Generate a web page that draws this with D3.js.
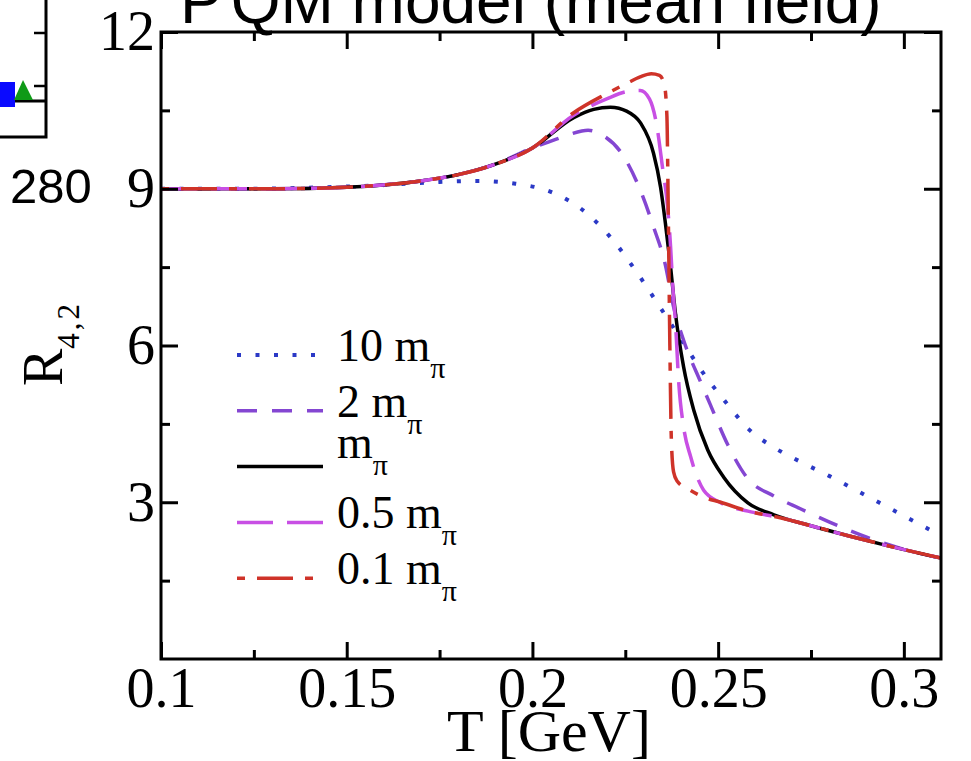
<!DOCTYPE html>
<html><head><meta charset="utf-8">
<script src="https://cdn.jsdelivr.net/npm/d3@7"></script>
<style>html,body{margin:0;padding:0;background:#fff;overflow:hidden}svg{display:block}</style>
</head><body><svg id="c" width="971" height="761"></svg>
<script>
// ---------- data ----------
const titleHead = "P";
const titleRest = "QM model (mean field)";
const xLabel = "T [GeV]";
const xDomain = [0.1, 0.31];
const yDomain = [0, 12];
const xMajor = [0.1, 0.15, 0.2, 0.25, 0.3];
const xMajorLabels = ["0.1", "0.15", "0.2", "0.25", "0.3"];
const xMinor = [0.125, 0.175, 0.225, 0.275];
const yMajor = [3, 6, 9, 12];
const yMajorLabels = ["3", "6", "9", "12"];
const yMinor = [1.5, 4.5, 7.5, 10.5];

const seriesNames = ["10 m", "2 m", "m", "0.5 m", "0.1 m"];

const T_10 = [0.100,0.120,0.140,0.160,0.175,0.185,0.195,0.2057,0.2148,0.2221,0.2283,0.2342,0.2400,0.2458,0.2520,0.2582,0.265,0.272,0.280,0.290,0.300,0.310];
const R_10 = [9.00,9.00,9.02,9.07,9.13,9.15,9.10,8.92,8.52,7.98,7.38,6.75,6.12,5.49,4.92,4.40,4.05,3.78,3.50,3.12,2.74,2.36];

const T_2 = [0.100,0.130,0.150,0.170,0.180,0.190,0.200,0.2057,0.2100,0.2150,0.2190,0.2237,0.2290,0.2326,0.2358,0.2380,0.2407,0.2453,0.2480,0.2526,0.2580,0.2650,0.2720,0.2800,0.2900,0.3000,0.3100];
const R_2 = [9.00,9.00,9.03,9.15,9.27,9.47,9.78,9.93,10.04,10.12,10.02,9.71,8.98,8.27,7.54,6.74,6.10,5.30,4.85,4.10,3.45,3.12,2.88,2.62,2.33,2.10,1.93];

const T_1 = [0.100,0.130,0.150,0.170,0.180,0.190,0.200,0.2111,0.2165,0.2210,0.2255,0.2291,0.2326,0.2345,0.2358,0.2372,0.2385,0.2407,0.2434,0.2472,0.2515,0.2580,0.2650,0.2750,0.2850,0.2950,0.3100];
const R_1 = [9.00,9.00,9.03,9.15,9.27,9.47,9.78,10.36,10.52,10.56,10.48,10.26,9.68,9.03,8.34,7.50,6.62,5.59,4.77,4.00,3.48,2.99,2.76,2.55,2.36,2.18,1.93];

const T_05 = [0.100,0.130,0.150,0.170,0.180,0.190,0.200,0.2110,0.2200,0.2255,0.2290,0.2315,0.2335,0.2350,0.2364,0.2372,0.2378,0.2385,0.2394,0.2407,0.2426,0.2461,0.2507,0.2580,0.2670,0.2750,0.2850,0.2950,0.3100];
const R_05 = [9.00,9.00,9.03,9.15,9.27,9.47,9.78,10.40,10.72,10.86,10.88,10.72,10.20,9.42,8.65,7.89,7.12,6.45,5.28,4.44,3.87,3.23,2.99,2.83,2.70,2.55,2.36,2.18,1.93];

const T_01 = [0.100,0.130,0.150,0.170,0.180,0.190,0.200,0.2110,0.2200,0.2255,0.2290,0.2320,0.2342,0.2355,0.2362,0.2366,0.2370,0.2374,0.2380,0.2390,0.2420,0.2460,0.2507,0.2580,0.2670,0.2750,0.2850,0.2950,0.3100];
const R_01 = [9.00,9.00,9.03,9.15,9.27,9.47,9.78,10.45,10.82,11.02,11.14,11.20,11.17,11.00,10.40,8.40,6.00,4.20,3.58,3.40,3.25,3.10,3.00,2.83,2.70,2.55,2.36,2.18,1.93];

// fragment of neighbouring chart (top-left corner)
const fragTickLabel = "280";

// ---------- styles ----------
const seriesT = [T_10, T_2, T_1, T_05, T_01];
const seriesR = [R_10, R_2, R_1, R_05, R_01];
const colors = ["#2b39c6", "#8446d2", "#000000", "#c84fe4", "#cf3329"];
const dashes = ["4 14.5", "20 15", null, "36 14", "8 12 36 12"];
const widths = [4, 3.5, 3.5, 3.5, 3.5];

const svg = d3.select("#c");
const serif = "'Liberation Serif','Times New Roman',Times,serif";
const sans = "'Liberation Sans',Arial,Helvetica,sans-serif";

const P = {left: 161, right: 941, top: 32, bottom: 659};
const x = d3.scaleLinear().domain(xDomain).range([P.left, P.right]);
const y = d3.scaleLinear().domain(yDomain).range([P.bottom, P.top]);

// ---------- neighbour fragment ----------
const frag = svg.append("g");
frag.append("path").attr("d", "M0,137 L46,137 L46,-2").attr("fill", "none").attr("stroke", "#000").attr("stroke-width", 3);
frag.append("line").attr("x1", 0).attr("x2", 46).attr("y1", 101).attr("y2", 101).attr("stroke", "#000").attr("stroke-width", 3);
[33, 86].forEach(v => frag.append("line").attr("x1", 34).attr("x2", 46).attr("y1", v).attr("y2", v).attr("stroke", "#000").attr("stroke-width", 2.5));
frag.append("rect").attr("x", -10).attr("y", 82).attr("width", 25).attr("height", 25).attr("fill", "#0a0aff");
frag.append("path").attr("d", "M23,80 L33,100 L14,100 Z").attr("fill", "#0f9a17");
frag.append("text").attr("x", 10).attr("y", 203).attr("font-family", sans).attr("font-size", 49).text(fragTickLabel);

// ---------- title ----------
const tt = svg.append("text").attr("x", 180).attr("y", 23).attr("font-family", sans).attr("font-size", 64).attr("fill", "#000");
tt.append("tspan").text(titleHead);
tt.append("tspan").attr("dx", 8).text(titleRest);

// ---------- curves ----------
svg.append("clipPath").attr("id", "pc").append("rect")
  .attr("x", P.left).attr("y", P.top).attr("width", P.right - P.left).attr("height", P.bottom - P.top);
const line = d3.line().x(d => x(d[0])).y(d => y(d[1])).curve(d3.curveMonotoneX);
const gc = svg.append("g").attr("clip-path", "url(#pc)");
seriesT.forEach((T, i) => {
  const pts = T.map((t, j) => [t, seriesR[i][j]]);
  const p = gc.append("path").attr("d", line(pts)).attr("fill", "none")
    .attr("stroke", colors[i]).attr("stroke-width", widths[i]);
  if (dashes[i]) p.attr("stroke-dasharray", dashes[i]);
});

// ---------- axes ----------
function styleAxis(g) {
  g.select(".domain").remove();
  g.selectAll(".tick line").attr("stroke", "#000").attr("stroke-width", 3);
  g.selectAll(".tick text").attr("font-family", serif).attr("font-size", 56).attr("fill", "#000");
}
svg.append("g").attr("transform", `translate(0,${P.bottom})`)
  .call(d3.axisBottom(x).tickValues(xMajor).tickSize(-17).tickPadding(8).tickFormat((d, i) => xMajorLabels[i])).call(styleAxis);
svg.append("g").attr("transform", `translate(0,${P.bottom})`)
  .call(d3.axisBottom(x).tickValues(xMinor).tickSize(-9).tickFormat("")).call(styleAxis);
svg.append("g").attr("transform", `translate(0,${P.top})`)
  .call(d3.axisTop(x).tickValues(xMajor).tickSize(-17).tickFormat("")).call(styleAxis);
svg.append("g").attr("transform", `translate(0,${P.top})`)
  .call(d3.axisTop(x).tickValues(xMinor).tickSize(-9).tickFormat("")).call(styleAxis);
svg.append("g").attr("transform", `translate(${P.left},0)`)
  .call(d3.axisLeft(y).tickValues(yMajor).tickSize(-17).tickPadding(6).tickFormat((d, i) => yMajorLabels[i])).call(styleAxis);
svg.append("g").attr("transform", `translate(${P.left},0)`)
  .call(d3.axisLeft(y).tickValues(yMinor).tickSize(-9).tickFormat("")).call(styleAxis);
svg.append("g").attr("transform", `translate(${P.right},0)`)
  .call(d3.axisRight(y).tickValues(yMajor).tickSize(-17).tickFormat("")).call(styleAxis);
svg.append("g").attr("transform", `translate(${P.right},0)`)
  .call(d3.axisRight(y).tickValues(yMinor).tickSize(-9).tickFormat("")).call(styleAxis);

svg.append("rect").attr("x", P.left).attr("y", P.top).attr("width", P.right - P.left).attr("height", P.bottom - P.top)
  .attr("fill", "none").attr("stroke", "#000").attr("stroke-width", 3);

// axis titles
svg.append("text").attr("x", 549).attr("y", 751).attr("text-anchor", "middle")
  .attr("font-family", serif).attr("font-size", 60).text(xLabel);
const yl = svg.append("text").attr("transform", `translate(62,${(P.top + P.bottom) / 2 - 2}) rotate(-90)`)
  .attr("text-anchor", "middle").attr("font-family", serif).attr("font-size", 56);
yl.append("tspan").text("R");
yl.append("tspan").attr("font-size", 31).attr("dy", 17).attr("letter-spacing", 3).text("4,2");

// ---------- legend ----------
const legY0 = 355, legDy = 55.8;
const lg = svg.append("g");
seriesNames.forEach((name, i) => {
  const ly = legY0 + i * legDy;
  const l = lg.append("line").attr("x1", 237).attr("x2", 323).attr("y1", ly).attr("y2", ly)
    .attr("stroke", colors[i]).attr("stroke-width", widths[i]);
  if (dashes[i]) l.attr("stroke-dasharray", dashes[i]);
  const t = lg.append("text").attr("x", 337).attr("y", ly + (i === 2 ? -9 : 6))
    .attr("font-family", serif).attr("font-size", 46).attr("fill", "#000");
  t.append("tspan").text(name);
  t.append("tspan").attr("font-size", 30).attr("dy", 17).text("\u03c0");
});
</script></body></html>
